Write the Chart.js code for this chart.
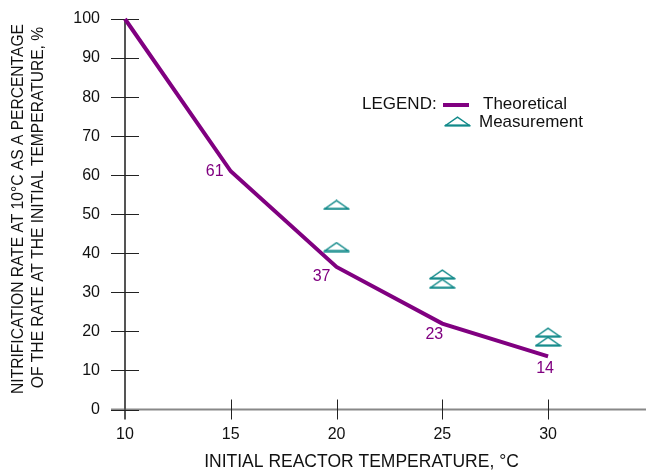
<!DOCTYPE html>
<html>
<head>
<meta charset="utf-8">
<script src="https://cdn.jsdelivr.net/npm/chart.js@4.4.0/dist/chart.umd.min.js"></script>
<style>
  html, body { margin: 0; padding: 0; background: #fff; }
  #wrap { width: 646px; height: 470px; }
</style>
</head>
<body>
<div id="wrap"><canvas id="chart" width="646" height="470"></canvas></div>
<script>
// Chart data
const temperatures = [10, 15, 20, 25, 30]
const theoretical = [100, 61, 36.5, 22, 13.6]
const theoreticalLabels = ['', '61', '37', '23', '14']
const measurementTemps = [20, 20, 25, 25, 30, 30]
const measurements = [52.4, 41.6, 34.6, 32.2, 19.7, 17.4]
const xTickValues = [10, 15, 20, 25, 30]
const yTickValues = [0, 10, 20, 30, 40, 50, 60, 70, 80, 90, 100]

// Label offsets (px) relative to the theoretical points
const labelOffsets = [[0, 0], [-16, 0], [-15, 10], [-8, 11.5], [-3, 12.6]]

const PURPLE = '#800080'
const TEAL = '#128a8a'
const FONT = "'Liberation Sans', Arial, sans-serif"

Chart.defaults.font.family = FONT
Chart.defaults.color = '#111'

// Flat outlined triangle used as the measurement marker
const makeTriangle = () => {
  const c = document.createElement('canvas')
  c.width = 27
  c.height = 11
  const g = c.getContext('2d')
  g.strokeStyle = TEAL
  g.lineWidth = 1.5
  g.beginPath()
  g.moveTo(1.5, 9.5)
  g.lineTo(13.5, 1.2)
  g.lineTo(25.5, 9.5)
  g.closePath()
  g.stroke()
  g.lineWidth = 2
  g.beginPath()
  g.moveTo(1, 9.5)
  g.lineTo(26, 9.5)
  g.stroke()
  return c
}
const triangle = makeTriangle()

const decorations = {
  id: 'decorations',
  beforeDatasetsDraw(chart) {
    const { ctx, chartArea, scales: { x, y } } = chart
    const x0 = x.getPixelForValue(10)
    const y0 = y.getPixelForValue(0)
    ctx.save()
    // axes
    ctx.lineWidth = 2
    ctx.strokeStyle = '#888'
    ctx.beginPath()
    ctx.moveTo(111, y0)
    ctx.lineTo(chart.width, y0)
    ctx.stroke()
    ctx.strokeStyle = '#555'
    ctx.beginPath()
    ctx.moveTo(x0, chartArea.top)
    ctx.lineTo(x0, y0 + 10)
    ctx.stroke()
    // tick marks crossing the axes
    ctx.lineWidth = 1
    ctx.strokeStyle = '#222'
    yTickValues.forEach(v => {
      const py = Math.round(y.getPixelForValue(v)) + 0.5
      ctx.beginPath()
      ctx.moveTo(x0 - 14, py)
      ctx.lineTo(x0 + 14, py)
      ctx.stroke()
    })
    xTickValues.forEach(v => {
      if (v === 10) return
      const px = Math.round(x.getPixelForValue(v)) + 0.5
      ctx.beginPath()
      ctx.moveTo(px, y0 - 10)
      ctx.lineTo(px, y0 + 10)
      ctx.stroke()
    })
    ctx.restore()
  },
  afterDraw(chart) {
    const { ctx, scales: { x, y } } = chart
    ctx.save()
    ctx.fillStyle = '#111'
    ctx.textAlign = 'center'
    ctx.textBaseline = 'middle'

    // y axis title, two rotated lines
    ctx.font = '15.6px ' + FONT
    ctx.save()
    ctx.translate(18.5, 209)
    ctx.rotate(-Math.PI / 2)
    ctx.fillText('NITRIFICATION RATE AT 10°C AS A PERCENTAGE', 0, 0)
    ctx.restore()
    ctx.save()
    ctx.translate(38.5, 207.5)
    ctx.rotate(-Math.PI / 2)
    ctx.fillText('OF THE RATE AT THE INITIAL TEMPERATURE, %', 0, 0)
    ctx.restore()

    // x axis title
    ctx.font = '17.5px ' + FONT
    ctx.fillText('INITIAL REACTOR TEMPERATURE, °C', 361.5, 462)

    // value labels next to the theoretical curve
    ctx.fillStyle = PURPLE
    ctx.font = '16px ' + FONT
    theoreticalLabels.forEach((txt, i) => {
      if (!txt) return
      const px = x.getPixelForValue(temperatures[i]) + labelOffsets[i][0]
      const py = y.getPixelForValue(theoretical[i]) + labelOffsets[i][1]
      ctx.fillText(txt, px, py)
    })

    // legend
    ctx.fillStyle = '#111'
    ctx.font = '17px ' + FONT
    ctx.textAlign = 'left'
    ctx.fillText('LEGEND:', 362, 104)
    ctx.strokeStyle = PURPLE
    ctx.lineWidth = 4
    ctx.beginPath()
    ctx.moveTo(443, 105)
    ctx.lineTo(469, 105)
    ctx.stroke()
    ctx.fillText('Theoretical', 483, 104)
    ctx.drawImage(triangle, 444, 116)
    ctx.fillText('Measurement', 479, 122)
    ctx.restore()
  }
}

new Chart(document.getElementById('chart'), {
  type: 'scatter',
  data: {
    datasets: [
      {
        label: 'Theoretical',
        type: 'line',
        data: temperatures.map((t, i) => ({ x: t, y: theoretical[i] })),
        borderColor: PURPLE,
        borderWidth: 4,
        pointRadius: 0,
        fill: false,
        tension: 0,
        clip: false
      },
      {
        label: 'Measurement',
        data: measurementTemps.map((t, i) => ({ x: t, y: measurements[i] })),
        pointStyle: triangle,
        pointRadius: 10,
        clip: false
      }
    ]
  },
  options: {
    responsive: false,
    animation: false,
    devicePixelRatio: 1,
    layout: { autoPadding: false, padding: { top: 19, right: 0, left: 0, bottom: 0 } },
    plugins: {
      legend: { display: false },
      tooltip: { enabled: false }
    },
    scales: {
      x: {
        type: 'linear',
        min: 10,
        max: 34.63,
        afterBuildTicks: scale => {
          scale.ticks = xTickValues.map(v => ({ value: v }))
        },
        afterFit: scale => {
          scale.height = 60.5
          scale.paddingLeft = 0
          scale.paddingRight = 0
        },
        grid: { display: false, drawTicks: false },
        border: { display: false },
        ticks: { padding: 15, color: '#111', font: { size: 16 } }
      },
      y: {
        type: 'linear',
        min: 0,
        max: 100,
        afterBuildTicks: scale => {
          scale.ticks = yTickValues.map(v => ({ value: v }))
        },
        afterFit: scale => {
          scale.width = 125
          scale.paddingTop = 0
          scale.paddingBottom = 0
        },
        grid: { display: false, drawTicks: false },
        border: { display: false },
        ticks: { padding: 25, color: '#111', font: { size: 16 } }
      }
    }
  },
  plugins: [decorations]
})
</script>
</body>
</html>
